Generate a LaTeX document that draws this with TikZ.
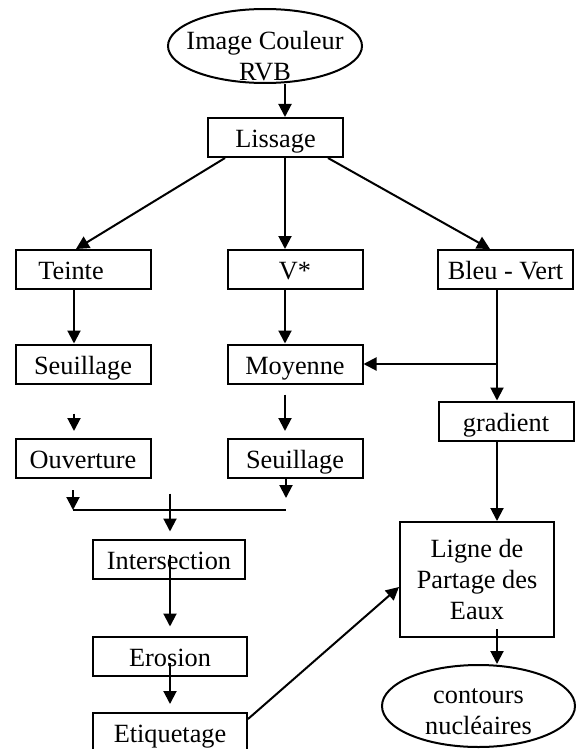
\documentclass[tikz,border=0pt]{standalone}
\usepackage{fontspec}
\setmainfont{Liberation Serif}
\usetikzlibrary{arrows.meta, shapes.geometric, positioning}

\begin{document}
\begin{tikzpicture}[x=0.5pt, y=-0.5pt, line width=1pt,
    every node/.style = {font=\fontsize{13.15}{15.5}\selectfont},
    bigbox/.style = {draw, rectangle, minimum width=67.5pt,
      minimum height=19.5pt, inner sep=0pt},
    box/.style  = {bigbox, text height=10pt, text depth=0pt},
    oval/.style = {draw, ellipse, inner sep=0pt},
    arr/.style  = {-{Triangle[width=6.5pt,length=6.5pt]}}]
  \useasboundingbox (0,0) rectangle (579,749);

  % nodes
  \node[oval, minimum width=97pt, minimum height=37pt,
    label={[align=center, yshift=-5pt]center:Image Couleur\\RVB}] (img) at (265,46) {};
  \node[box] (lissage)   at (275.5,137.5) {Lissage};
  \node[box] (teinte)    at (83,269.5)    {Teinte\hspace*{12pt}};
  \node[box] (vstar)     at (295,269.5)   {V*};
  \node[box] (bleu)      at (505.5,269.5) {Bleu - Vert};
  \node[box] (seuilT)    at (83,364)      {Seuillage};
  \node[box] (moyenne)   at (295,364)     {Moyenne};
  \node[box] (gradient)  at (506,421)     {gradient};
  \node[box] (ouverture) at (83,458.5)    {Ouverture};
  \node[box] (seuilV)    at (295,458.5)   {Seuillage};
  \node[box, minimum width=76pt] (inter)   at (169,559)   {Intersection};
  \node[bigbox, minimum width=77pt, minimum height=57.5pt, align=center] (ligne) at (477,579.5) {Ligne de\\Partage des\\Eaux};
  \node[box, minimum width=77pt] (erosion) at (170,656)   {Erosion};
  \node[box, minimum width=77pt] (etiq)    at (170,732.5) {Etiquetage};
  \node[oval, minimum width=96.5pt, minimum height=41pt,
    label={[align=center, yshift=-3pt]center:contours\\nucléaires}] (contours) at (478.5,706) {};

  % helper points
  \coordinate (vx) at ([xshift=-5pt]vstar.north);
  \coordinate (bv) at ([xshift=-4.25pt]bleu.south);
  \coordinate (mL) at ([xshift=-5pt,yshift=-15.5pt]ouverture.south);
  \coordinate (sv) at ([xshift=-4.5pt]seuilV.south);
  \coordinate (mi) at ([xshift=0.5pt]inter.north);
  \coordinate (lc) at (bv |- ligne.south);

  % connectors
  \draw[arr] ([xshift=10pt]img.south) -- ([xshift=10pt]img.south |- lissage.north);
  \draw[arr] ([xshift=9pt]lissage.south west) -- ([xshift=-3.5pt]teinte.north);
  \draw[arr] (vx |- lissage.south) -- (vx);
  \draw[arr] ([xshift=-8pt]lissage.south east) -- ([xshift=-7.75pt]bleu.north);

  \draw[arr] ([xshift=-4.5pt]teinte.south) -- ([xshift=-4.5pt]seuilT.north);
  \draw[arr] ([xshift=-4.5pt,yshift=-14.5pt]seuilT.south) -- ([xshift=-4.5pt,yshift=3.5pt]ouverture.north);
  \draw[arr] ([xshift=-5pt]vstar.south) -- ([xshift=-5pt]moyenne.north);
  \draw[arr] ([xshift=-5pt,yshift=-5pt]moyenne.south) -- ([xshift=-5pt,yshift=3.5pt]seuilV.north);

  \draw[arr] (bv) -- (bv |- gradient.north);
  \draw[arr] (bv |- moyenne.east) -- (moyenne.east);
  \draw[arr] (bv |- gradient.south) -- (bv |- ligne.north);

  % merging line
  \draw (mL) -- (sv |- mL);
  \draw[arr] ([xshift=-5pt,yshift=-5.5pt]ouverture.south) -- (mL);
  \draw[arr] (sv) -- ([yshift=-9.5pt]sv);
  \draw[arr] ([yshift=22.5pt]mi) -- ([yshift=3.5pt]mi);

  \draw[arr] ([xshift=0.5pt,yshift=2pt]inter.center) -- ([yshift=4.5pt]erosion.north);
  \draw[arr] ([yshift=-3.5pt]erosion.center) -- ([yshift=4pt]etiq.north);
  \draw[arr] ([yshift=-3.5pt]etiq.north east) -- ([yshift=-3.75pt]ligne.west);
  \draw[arr] ([yshift=4.5pt]lc) -- (lc |- contours.north);
\end{tikzpicture}
\end{document}
